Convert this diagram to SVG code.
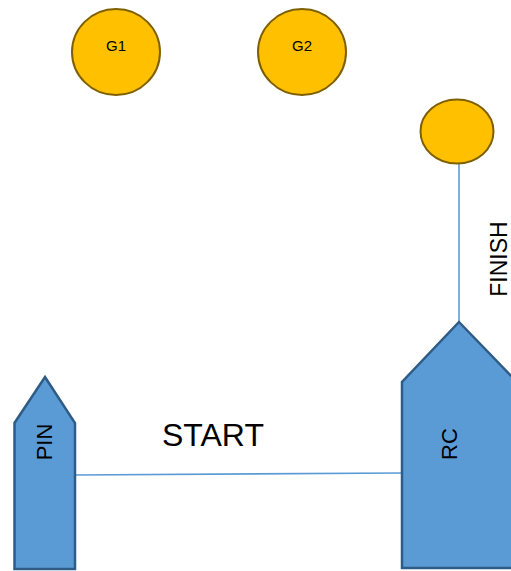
<svg xmlns="http://www.w3.org/2000/svg" width="511" height="571" viewBox="0 0 511 571">
<style>
.buoy{fill:#FFC000;stroke:#7F6000;stroke-width:2}
.boat{fill:#5B9BD5;stroke:#2F5C86;stroke-width:2.5;stroke-linejoin:miter}
.line{stroke:#5B9BD5;stroke-width:1.6;fill:none}
.t{font-family:"Liberation Sans",Arial,sans-serif;fill:#000}
</style>
<rect width="511" height="571" fill="#fff"/>
<g id="connectors">
<line class="line" x1="76" y1="475" x2="402" y2="473"/>
<line class="line" x1="459" y1="164" x2="459" y2="322"/>
</g>
<g id="G1">
<ellipse class="buoy" cx="116" cy="52" rx="44" ry="43"/>
<text class="t" x="116" y="50.5" font-size="15" text-anchor="middle">G1</text>
</g>
<g id="G2">
<ellipse class="buoy" cx="302" cy="52" rx="44" ry="43"/>
<text class="t" x="302" y="50.5" font-size="15" text-anchor="middle">G2</text>
</g>
<g id="finish-mark">
<ellipse class="buoy" cx="457" cy="131.5" rx="36.5" ry="32"/>
</g>
<g id="finish-label">
<text class="t" transform="translate(507,259) rotate(-90)" font-size="23" text-anchor="middle">FINISH</text>
</g>
<g id="start-label">
<text class="t" x="162" y="446" font-size="32">START</text>
</g>
<g id="PIN">
<polygon class="boat" points="45,377 75,423 75,569 14.5,569 14.5,423"/>
<text class="t" transform="translate(52,442) rotate(-90)" font-size="22" text-anchor="middle">PIN</text>
</g>
<g id="RC">
<polygon class="boat" points="459,322 517,382 517,568 402,568 402,382"/>
<text class="t" transform="translate(457,444) rotate(-90)" font-size="22" text-anchor="middle">RC</text>
</g>
</svg>
